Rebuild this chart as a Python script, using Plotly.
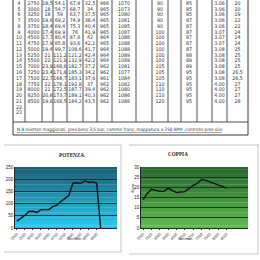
import plotly.graph_objects as go

# ---------------- DATA ----------------
# rows 1-3 are above the visible part of the sheet
rpm = [2000, 2250, 2500, 2750, 3000, 3250, 3500, 3750, 4000, 4500, 4750,
       5000, 5250, 5500, 7000, 7250, 7500, 7750, 8000, 8250, 8500]
coppia = [14, 17, 19, 18.5, 18, 18, 19.6, 18.4, 17.4, 17.7, 17.9,
          19.4, 21, 22, 23.9, 23.4, 22.7, 22, 21, 20.6, 19.6]
potenza_kw = [None, None, None, 54.1, 54.7, 59, 69.2, 69.4, 69.9, 80.4, 85.8,
              99.7, 111.2, 121.9, 168.6, 171.8, 168.7, 178.1, 172.5, 173.7, 168.5]
potenza = [28, 40, 52, 67.9, 68.7, 63.7, 74.9, 75.3, 76, 87.6, 93.6,
           108.6, 121.2, 132.9, 182.7, 185.3, 183.1, 192.8, 187.7, 189.1, 184.2]
col6 = [None, None, None, 32.5, 34, 37.5, 38.4, 40.4, 41.9, 42, 42.1,
        41.7, 42.4, 42.2, 37.2, 34.2, 37.6, 37, 39.4, 40.3, 43.5]
col7 = [None, None, None, 966, 965, 965, 965, 965, 965, 964, 965,
        964, 964, 964, 962, 962, 961, 962, 962, 962, 962]
col8 = [None, None, None, 1070, 1073, 1080, 1081, 1085, 1087, 1088, 1088,
        1088, 1089, 1089, 1081, 1077, 1084, 1082, 1080, 1086, 1086]
col9 = [None, None, None, 90, 90, 90, 90, 90, 100, 100, 100,
        100, 100, 100, 105, 105, 105, 110, 110, 110, 120]
col10 = [None, None, None, 85, 85, 85, 87, 87, 87, 87, 87,
         87, 88, 89, 89, 95, 95, 95, 95, 95, 95]
col11 = [None, None, None, "3.06", "3.06", "3.06", "3.06", "3.06", "3.07", "3.07", "3.07",
         "3.08", "3.08", "3.08", "3.08", "3.08", "3.08", "4.00", "4.00", "4.00", "4.00"]
col12 = [None, None, None, 20, 20, 19, 22, 22, 24, 24, 24,
         25, 25, 25, 25, 26.5, 26.5, 27, 27, 27, 28]
visible_rows = list(range(4, 24))
note = "N.B Inietton maggiorati, pres benz 3,5 bar, camme franz, mappatura a 250 RPM ,controllo pres olio"

# ---------------- helpers ----------------
W = H = 260
def px(x): return x / W
def py(y): return 1 - y / H

def fmt(v):
    if v is None:
        return ""
    if isinstance(v, str):
        return v
    if float(v).is_integer():
        return str(int(v))
    return str(v).replace(".", ",")

fig = go.Figure()

# ---------------- TABLE ----------------
col_w = [12, 17, 11, 14, 16, 14, 15, 24, 16, 16, 13, 16, 15, 15, 21]
edges = [0.0]
for w in col_w:
    edges.append(edges[-1] + w)
centers = [(edges[i] + edges[i + 1]) / 2 for i in range(len(col_w))]
first = 3  # index of row 4
table_cols = [
    [str(r) for r in visible_rows],
    [fmt(v) for v in rpm[first:]],
    [fmt(v) for v in coppia[first:]],
    [fmt(v) for v in potenza_kw[first:]],
    [fmt(v) for v in potenza[first:]],
    [fmt(v) for v in col6[first:]],
    [fmt(v) for v in col7[first:]],
    [fmt(v) for v in col8[first:]],
    None,
    [fmt(v) for v in col9[first:]],
    None,
    [fmt(v) for v in col10[first:]],
    None,
    [fmt(v) for v in col11[first:]],
    [fmt(v) for v in col12[first:]],
]
tfont = dict(family="Liberation Sans Narrow, DejaVu Sans Condensed, Arial", size=5.2, color="#303030")
for ci, col in enumerate(table_cols):
    if col is None:
        continue
    fig.add_trace(go.Scatter(
        x=[centers[ci]] * len(col), y=visible_rows[:len(col)], text=col,
        mode="text", textposition="middle center", textfont=tfont, cliponaxis=False,
        xaxis="x3", yaxis="y3", showlegend=False, hoverinfo="skip"))

shapes = []
# chart plot-area geometry (paper fractions)
P1X = [px(15), px(117)]
P2X = [px(141), px(248)]
PY = [py(228), py(167)]

def gradient(xs, ys, top, bottom, n=24):
    out = []
    h = ys[1] - ys[0]
    for k in range(n):
        t = k / (n - 1)
        c = tuple(int(round(top[j] + (bottom[j] - top[j]) * t)) for j in range(3))
        out.append(dict(type="rect", xref="paper", yref="paper", x0=xs[0], x1=xs[1],
                        y0=ys[1] - h * (k + 1) / n, y1=ys[1] - h * k / n + (0.001 if k else 0),
                        fillcolor="rgb(%d,%d,%d)" % c, line=dict(width=0), layer="below"))
    return out

shapes += gradient(P1X, PY, (28, 96, 118), (40, 200, 238))
shapes += gradient(P2X, PY, (38, 104, 46), (92, 188, 76))

for e in edges[1:-1]:
    shapes.append(dict(type="line", xref="x3", yref="y3 domain", x0=e, x1=e, y0=0, y1=1,
                       line=dict(color="#222", width=0.8)))
shapes.append(dict(type="rect", xref="paper", yref="paper", x0=px(13), x1=px(248),
                   y0=py(135), y1=1.01, line=dict(color="#222", width=0.9)))
shapes.append(dict(type="line", xref="paper", yref="paper", x0=px(13), x1=px(248),
                   y0=py(122), y1=py(122), line=dict(color="#222", width=0.8)))

pg = dict(color="#b8b8b8", width=0.8)
shapes += [
    dict(type="line", xref="paper", yref="paper", x0=px(4), x1=px(121), y0=py(145), y1=py(145), line=pg),
    dict(type="line", xref="paper", yref="paper", x0=px(121), x1=px(121), y0=py(145), y1=py(252), line=pg),
    dict(type="line", xref="paper", yref="paper", x0=px(4), x1=px(121), y0=py(252), y1=py(252), line=pg),
    dict(type="line", xref="paper", yref="paper", x0=px(129), x1=px(259), y0=py(145), y1=py(145), line=pg),
    dict(type="line", xref="paper", yref="paper", x0=px(258), x1=px(258), y0=py(145), y1=py(254), line=pg),
    dict(type="line", xref="paper", yref="paper", x0=px(129), x1=px(259), y0=py(254), y1=py(254), line=pg),
]

# ---------------- CHARTS ----------------
idx = list(range(1, len(rpm) + 1))
pot_line = potenza + [0]
pot_x = idx + [len(rpm) + 1]
fig.add_trace(go.Scatter(x=pot_x, y=pot_line, mode="lines", line=dict(color="#111", width=1.4),
                         xaxis="x", yaxis="y", showlegend=False))
fig.add_trace(go.Scatter(x=idx, y=coppia, mode="lines", line=dict(color="#111", width=1.4),
                         xaxis="x2", yaxis="y2", showlegend=False))

tick_idx = idx[::2]
tick_txt = [str(rpm[i - 1]) for i in tick_idx]

axfont = dict(family="Liberation Sans, Arial", size=4.5, color="#222")
common_x = dict(range=[0.5, 26.1], tickmode="array", tickvals=tick_idx, ticktext=tick_txt, tickangle=-45,
                tickfont=dict(family="Liberation Sans, Arial", size=3.8, color="#333"),
                showgrid=False, zeroline=False, showline=True, linecolor="#222", linewidth=0.8,
                ticks="outside", ticklen=1.5, tickcolor="#333", automargin=False)

fig.update_layout(
    width=W, height=H, margin=dict(l=0, r=0, t=0, b=0, autoexpand=False),
    paper_bgcolor="white", plot_bgcolor="rgba(0,0,0,0)",
    showlegend=False,
    xaxis=dict(domain=P1X, anchor="y", **common_x),
    yaxis=dict(domain=PY, anchor="x", range=[0, 250], dtick=50, automargin=False,
               tickfont=axfont, showgrid=True, gridcolor="#12323a", gridwidth=0.8,
               zeroline=False, showline=True, linecolor="#222", linewidth=0.8),
    xaxis2=dict(domain=P2X, anchor="y2", **common_x),
    yaxis2=dict(domain=PY, anchor="x2", range=[0, 30], dtick=5, automargin=False,
                tickfont=axfont, showgrid=True, gridcolor="#1a3a1a", gridwidth=0.8,
                zeroline=False, showline=True, linecolor="#222", linewidth=0.8),
    xaxis3=dict(domain=[px(13), px(248)], anchor="y3", range=[0, edges[-1]], visible=False, automargin=False),
    yaxis3=dict(domain=[py(122), 1], anchor="x3", range=[24.55, 3.38], visible=False, automargin=False),
    shapes=shapes,
)

ann = [
    dict(text="<u>" + note + "</u>", x=px(14.5), y=py(129.5), xref="paper", yref="paper",
         xanchor="left", yanchor="middle", showarrow=False,
         font=dict(family="Liberation Sans Narrow, DejaVu Sans Condensed, Arial", size=4.6, color="#333")),
    dict(text="<b>POTENZA.</b>", x=px(57), y=py(155), xref="paper", yref="paper", showarrow=False,
         font=dict(family="Liberation Serif, Times New Roman", size=5.2, color="#222")),
    dict(text="<b>COPPIA</b>", x=px(190), y=py(154), xref="paper", yref="paper", showarrow=False,
         font=dict(family="Liberation Serif, Times New Roman", size=5.2, color="#222")),
    dict(text="Giri/min", x=px(65), y=py(243), xref="paper", yref="paper", showarrow=False,
         font=dict(family="Liberation Sans, Arial", size=4.2, color="#333")),
    dict(text="Giri/min", x=px(195), y=py(243), xref="paper", yref="paper", showarrow=False,
         font=dict(family="Liberation Sans, Arial", size=4.2, color="#333")),
    dict(text="Kgm", x=px(132), y=py(195), xref="paper", yref="paper", showarrow=False, textangle=-90,
         font=dict(family="Liberation Sans, Arial", size=4.2, color="#333")),
    dict(text="CV", x=px(4), y=py(197), xref="paper", yref="paper", showarrow=False, textangle=-90,
         font=dict(family="Liberation Sans, Arial", size=4.0, color="#888")),
]
fig.update_layout(annotations=ann)

fig.write_html("out.html")
